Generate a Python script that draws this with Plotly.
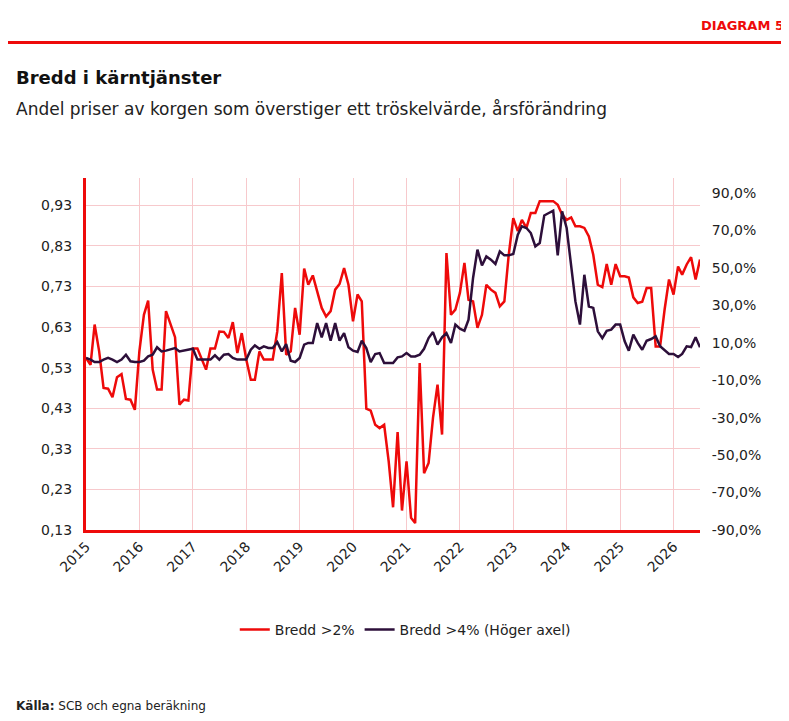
import pandas as pd
import plotly.graph_objects as go

red_vals = [0.554,0.537,0.636,0.570,0.480,0.478,0.457,0.506,0.514,0.453,0.451,0.426,0.570,0.660,0.695,0.525,0.476,0.476,0.669,0.636,
0.605,0.439,0.451,0.449,0.577,0.577,0.550,0.525,0.577,0.577,0.619,0.618,0.603,0.642,0.566,0.615,0.550,0.500,0.500,0.570,
0.550,0.550,0.550,0.619,0.763,0.562,0.570,0.677,0.611,0.774,0.734,0.757,0.714,0.677,0.656,0.669,0.722,0.736,0.775,0.734,
0.644,0.710,0.693,0.429,0.424,0.389,0.381,0.389,0.299,0.186,0.371,0.178,0.299,0.160,
0.147,0.541,0.270,0.295,0.406,0.488,0.365,0.812,0.660,0.673,0.714,0.788,0.697,0.693,0.628,0.660,0.734,0.722,0.714,0.681,
0.693,0.808,0.898,0.866,0.894,0.874,0.911,0.911,0.940,0.940,0.940,0.940,0.931,0.907,0.894,0.900,0.878,0.878,0.874,0.853,
0.808,0.734,0.728,0.785,0.734,0.785,0.755,0.755,0.752,0.703,0.689,0.692,0.726,0.726,0.582,0.582,0.673,0.747,0.710,0.779,
0.759,0.784,0.802,0.747,0.796]

purple_vals = [1.9,1.0,-0.3,-0.3,1.0,1.9,1.0,-0.3,1.0,3.6,0.1,-0.3,-0.3,0.4,2.7,3.6,7.6,5.4,5.8,6.3,
7.2,5.4,5.8,6.3,6.8,1.0,1.0,1.0,1.0,3.3,1.0,3.6,4.0,1.9,1.0,1.0,1.0,6.3,8.6,6.8,
8.1,7.2,7.2,10.4,5.4,9.3,0.4,-0.3,1.9,9.0,9.9,9.9,20.5,12.9,20.5,11.1,20.5,11.1,15.2,7.6,
5.8,5.1,11.1,7.2,-0.3,4.0,4.5,-0.8,-0.8,-0.8,2.2,2.7,4.5,2.7,2.7,
3.6,6.8,12.5,15.7,9.0,12.9,15.2,9.9,19.7,17.5,16.4,22.3,44.6,59.7,51.3,56.1,54.4,52.1,58.8,56.7,
56.7,57.4,67.7,72.2,71.3,68.6,61.5,63.3,78.0,79.3,80.5,56.7,80.2,71.3,49.9,32.1,19.7,46.3,29.4,28.6,
16.1,12.5,16.4,17.0,19.7,19.7,10.8,5.8,14.3,9.9,6.3,11.1,12.0,13.4,8.1,5.8,4.0,4.0,2.4,4.0,
8.1,7.7,12.9,7.6]

years = list(range(2015, 2027))
left_ticks = [0.13,0.23,0.33,0.43,0.53,0.63,0.73,0.83,0.93]
right_ticks = [-90,-70,-50,-30,-10,10,30,50,70,90]

red_x = pd.date_range("2015-01-01", periods=len(red_vals), freq="MS")
pur_x = pd.date_range("2015-01-01", periods=len(purple_vals), freq="MS")
end = max(red_x[-1], pur_x[-1])

RED = "#ee0a0a"
PUR = "#2d0f3a"
FONT = "DejaVu Sans, sans-serif"

fig = go.Figure()
fig.add_trace(go.Scatter(x=red_x, y=red_vals, name="Bredd >2%", mode="lines",
                         line=dict(color=RED, width=2.5)))
fig.add_trace(go.Scatter(x=pur_x, y=purple_vals, name="Bredd >4% (Höger axel)", mode="lines",
                         line=dict(color=PUR, width=2.5), yaxis="y2"))

fig.update_layout(
    width=789, height=721, plot_bgcolor="white", paper_bgcolor="white",
    margin=dict(l=78, r=97, t=170, b=199),
    font=dict(family=FONT, size=14, color="#222"),
    xaxis=dict(range=[pd.Timestamp("2015-01-01"), end], tickvals=[pd.Timestamp(f"{y}-01-01") for y in years],
               ticktext=[str(y) for y in years], tickangle=-45, showgrid=True, gridcolor="#f7c9cc",
               showline=True, linecolor=RED, linewidth=3, zeroline=False, ticks="", tickfont=dict(size=14),
               automargin=False),
    yaxis=dict(range=[0.13, 0.997], tickvals=left_ticks, ticktext=[f"{v:.2f}".replace(".", ",") for v in left_ticks],
               showgrid=True, gridcolor="#f7c9cc", showline=True, linecolor=RED, linewidth=3,
               zeroline=False, ticks="outside", ticklen=8, tickcolor="white", tickfont=dict(size=14),
               automargin=False),
    yaxis2=dict(range=[-90, 98], overlaying="y", side="right", tickvals=right_ticks,
                ticktext=[f"{v:.1f}%".replace(".", ",") for v in right_ticks], showgrid=False,
                zeroline=False, ticks="outside", ticklen=8, tickcolor="white", tickfont=dict(size=14),
                automargin=False),
    legend=dict(orientation="h", x=0.52, xanchor="center", y=-0.284, yanchor="middle", font=dict(size=14)),
    showlegend=True,
)

fig.add_shape(type="line", xref="paper", yref="paper", x0=-0.13, x1=1.16, y0=1.385, y1=1.385,
              line=dict(color=RED, width=3))
fig.add_annotation(text="<b>DIAGRAM 5</b>", xref="paper", yref="paper", x=1.14, y=1.405, xanchor="right",
                   yanchor="bottom", showarrow=False, font=dict(size=13, color=RED))
fig.add_annotation(text="<b>Bredd i kärntjänster</b>", xref="paper", yref="paper", x=-0.118, y=1.285,
                   xanchor="left", yanchor="middle", showarrow=False, font=dict(size=18, color="#111"))
fig.add_annotation(text="Andel priser av korgen som överstiger ett tröskelvärde, årsförändring", xref="paper",
                   yref="paper", x=-0.118, y=1.195, xanchor="left", yanchor="middle", showarrow=False,
                   font=dict(size=17, color="#222"))
fig.add_annotation(text="<b>Källa:</b> SCB och egna beräkning", xref="paper", yref="paper", x=-0.118, y=-0.5,
                   xanchor="left", yanchor="middle", showarrow=False, font=dict(size=12, color="#222"))

fig.write_html("out.html")
